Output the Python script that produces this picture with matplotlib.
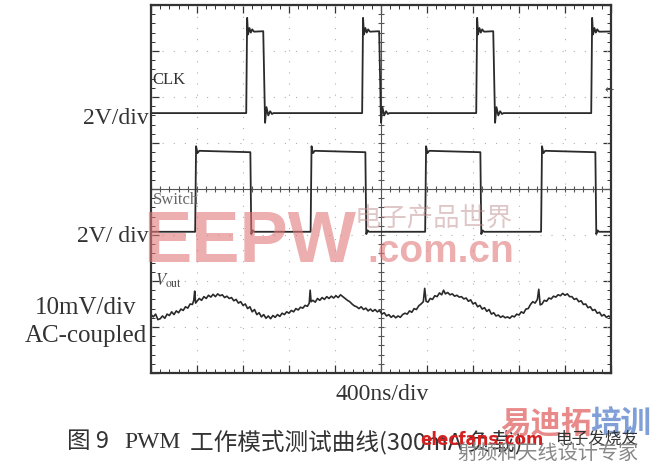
import numpy as np
import matplotlib.pyplot as plt

# ---- trace data, in screen divisions (x: 0..10, y: 0..8) ----
clk_rise = [2.07, 4.59, 7.07, 9.57]
clk_fall = [2.45, 4.97, 7.45, 10.4]
clk_low, clk_high = 5.65, 7.43
# ringing after the edges (offset in div, level)
clk_ring_up = [(0.02, 7.72), (0.04, 7.36), (0.07, 7.50), (0.10, 7.40), (0.13, 7.47), (0.17, 7.42)]
clk_ring_dn = [(0.03, 5.44), (0.06, 5.78), (0.10, 5.60), (0.14, 5.69), (0.18, 5.63)]

sw_rise = [0.96, 3.47, 5.96, 8.48]
sw_fall = [2.17, 4.67, 7.17, 9.67]
sw_low, sw_high = 3.07, 4.80
sw_ring_up = [(0.02, 4.93), (0.05, 4.78), (0.09, 4.83)]
sw_ring_dn = [(0.01, 3.02), (0.04, 3.10)]

vout_t = [0.00, 0.05, 0.10, 0.15, 0.20, 0.25, 0.30, 0.35, 0.40, 0.45, 0.50, 0.55, 0.60, 0.65, 0.70,
          0.75, 0.80, 0.85, 0.90, 0.93, 0.95, 0.97, 1.00, 1.05, 1.10, 1.15, 1.20, 1.25, 1.30, 1.35,
          1.40, 1.45, 1.50, 1.55, 1.60, 1.65, 1.70, 1.75, 1.80, 1.85, 1.90, 1.95, 2.00, 2.05, 2.10,
          2.15, 2.20, 2.25, 2.30, 2.35, 2.40, 2.45, 2.50, 2.55, 2.60, 2.65, 2.70, 2.75, 2.80, 2.85,
          2.90, 2.95, 3.00, 3.05, 3.10, 3.15, 3.20, 3.25, 3.30, 3.35, 3.40, 3.44, 3.46, 3.48, 3.52,
          3.57, 3.62, 3.67, 3.72, 3.77, 3.82, 3.87, 3.92, 3.97, 4.02, 4.07, 4.12, 4.17, 4.22, 4.27,
          4.32, 4.37, 4.42, 4.47, 4.52, 4.57, 4.62, 4.67, 4.72, 4.77, 4.82, 4.87, 4.92, 4.97, 5.02,
          5.07, 5.12, 5.17, 5.22, 5.27, 5.32, 5.37, 5.42, 5.47, 5.52, 5.57, 5.62, 5.67, 5.72, 5.77,
          5.82, 5.87, 5.92, 5.95, 5.98, 6.02, 6.07, 6.12, 6.17, 6.22, 6.27, 6.32, 6.36, 6.40, 6.45,
          6.50, 6.55, 6.60, 6.65, 6.70, 6.75, 6.80, 6.85, 6.90, 6.95, 7.00, 7.05, 7.10, 7.15, 7.20,
          7.25, 7.30, 7.35, 7.40, 7.45, 7.50, 7.55, 7.60, 7.65, 7.70, 7.75, 7.80, 7.85, 7.90, 7.95,
          8.00, 8.05, 8.10, 8.15, 8.20, 8.25, 8.30, 8.35, 8.40, 8.43, 8.46, 8.50, 8.55, 8.60, 8.65,
          8.70, 8.75, 8.80, 8.85, 8.90, 8.95, 9.00, 9.05, 9.10, 9.15, 9.20, 9.25, 9.30, 9.35, 9.40,
          9.45, 9.50, 9.55, 9.60, 9.65, 9.70, 9.75, 9.80, 9.85, 9.90, 9.95, 10.0]
vout_v = [1.27, 1.22, 1.28, 1.16, 1.18, 1.24, 1.19, 1.28, 1.25, 1.33, 1.27, 1.35, 1.31, 1.39, 1.36,
          1.44, 1.41, 1.50, 1.49, 1.58, 1.78, 1.52, 1.56, 1.62, 1.58, 1.66, 1.62, 1.69, 1.65, 1.71,
          1.66, 1.72, 1.68, 1.70, 1.64, 1.67, 1.62, 1.64, 1.57, 1.60, 1.52, 1.55, 1.47, 1.50, 1.40,
          1.44, 1.33, 1.38, 1.27, 1.31, 1.22, 1.27, 1.19, 1.24, 1.18, 1.25, 1.21, 1.27, 1.23, 1.30,
          1.27, 1.33, 1.30, 1.36, 1.33, 1.40, 1.37, 1.43, 1.41, 1.47, 1.45, 1.52, 1.80, 1.55, 1.58,
          1.54, 1.62, 1.58, 1.64, 1.60, 1.66, 1.62, 1.67, 1.63, 1.68, 1.64, 1.70, 1.66, 1.62, 1.58,
          1.55, 1.50, 1.46, 1.44, 1.40, 1.44, 1.38, 1.41, 1.35, 1.39, 1.34, 1.38, 1.33, 1.36, 1.28,
          1.31, 1.24, 1.27, 1.21, 1.25, 1.20, 1.24, 1.21, 1.27, 1.30, 1.28, 1.35, 1.32, 1.40, 1.38,
          1.46, 1.50, 1.55, 1.84, 1.56, 1.54, 1.62, 1.60, 1.68, 1.66, 1.74, 1.70, 1.80, 1.72, 1.75,
          1.70, 1.72, 1.67, 1.69, 1.65, 1.66, 1.61, 1.63, 1.56, 1.59, 1.50, 1.53, 1.44, 1.47, 1.39,
          1.42, 1.34, 1.38, 1.28, 1.31, 1.24, 1.26, 1.21, 1.24, 1.20, 1.22, 1.19, 1.24, 1.22, 1.28,
          1.26, 1.33, 1.30, 1.39, 1.40, 1.49, 1.55, 1.52, 1.60, 1.82, 1.48, 1.50, 1.58, 1.56, 1.63,
          1.61, 1.67, 1.65, 1.70, 1.68, 1.73, 1.69, 1.72, 1.66, 1.66, 1.60, 1.62, 1.55, 1.57, 1.49,
          1.50, 1.42, 1.44, 1.36, 1.38, 1.30, 1.32, 1.24, 1.27, 1.21, 1.24, 1.20]


def pulse_train(rises, falls, low, high, ring_up, ring_dn):
    t, v = [0.0], [low]
    for r, f in zip(rises, falls):
        t.append(r)
        v.append(low)
        for dt, lv in ring_up:
            t.append(r + dt)
            v.append(lv)
        t.append(f - 0.01)
        v.append(high)
        for dt, lv in ring_dn:
            t.append(f + dt)
            v.append(lv)
        t.append(f + ring_dn[-1][0] + 0.03)
        v.append(low)
    t.append(10.5)
    v.append(low)
    return t, v


clk_t, clk_v = pulse_train(clk_rise, clk_fall, clk_low, clk_high, clk_ring_up, clk_ring_dn)
sw_t, sw_v = pulse_train(sw_rise, sw_fall, sw_low, sw_high, sw_ring_up, sw_ring_dn)

fig = plt.figure(figsize=(6.5, 4.62), dpi=100)
ax = fig.add_axes([151 / 650, 1 - 373 / 462, 460 / 650, 368 / 462])
ax.set_xlim(0, 10)
ax.set_ylim(0, 8)

# graticule
for gx in range(1, 10):
    ax.axvline(gx, color='#b0b0b0', lw=0.8, ls=(0, (1, 9)))
for gy in range(1, 8):
    ax.axhline(gy, color='#b0b0b0', lw=0.8, ls=(0, (1, 9)))
ax.axvline(5, color='#555555', lw=0.8)
ax.axhline(4, color='#555555', lw=0.8)
fine_x = np.arange(0, 10.01, 0.2)
fine_y = np.arange(0, 8.01, 0.2)
ax.plot(fine_x, np.full(len(fine_x), 4.0), ls='', marker='|', ms=5, mew=0.8, color='#555555')
ax.plot(np.full(len(fine_y), 5.0), fine_y, ls='', marker='_', ms=5, mew=0.8, color='#555555')

ax.set_xticks(np.arange(0, 11, 1))
ax.set_yticks(np.arange(0, 9, 1))
ax.set_xticks(fine_x, minor=True)
ax.set_yticks(fine_y, minor=True)
ax.tick_params(which='both', direction='in', top=True, right=True,
               labelbottom=False, labelleft=False, color='#333333')
ax.tick_params(which='major', length=6, width=0.9)
ax.tick_params(which='minor', length=3, width=0.7)
for s in ax.spines.values():
    s.set_linewidth(1.6)
    s.set_color('#333333')

# traces
ax.plot(clk_t, clk_v, color='#2a2a2a', lw=1.3)
ax.plot(sw_t, sw_v, color='#2a2a2a', lw=1.3)
ax.plot(vout_t, vout_v, color='#2a2a2a', lw=1.2)

ax.text(0.04, 6.37, 'CLK', fontsize=12, family='Liberation Serif', color='#333333', va='center')
ax.text(0.04, 3.76, 'Switch', fontsize=12, family='Liberation Serif', color='#666666', va='center')
ax.text(0.08, 2.0, r'$V_{\rm out}$', fontsize=12, color='#444444', va='center',
        math_fontfamily='stix')
ax.text(9.85, 6.15, '\u2190', fontsize=8, color='#444444', va='center', ha='left')

# left labels
lab = dict(family='Liberation Serif', color='#333333', fontsize=17, ha='right', va='center')
fig.text(149 / 650, 1 - 118 / 462, '2V/div', **lab)
fig.text(149 / 650, 1 - 237 / 462, '2V/ div', **lab)
lab['fontsize'] = 18
fig.text(136 / 650, 1 - 308 / 462, '10mV/div', **lab)
fig.text(147 / 650, 1 - 336 / 462, 'AC-coupled', **lab)
fig.text(382 / 650, 1 - 395 / 462, '400ns/div', family='Liberation Serif', color='#333333',
         fontsize=17, ha='center', va='center')

# caption
cap = dict(family=['Noto Sans CJK SC', 'DejaVu Sans'], fontsize=17, color='#333333', va='center')
fig.text(67 / 650, 1 - 442 / 462, '图 9', **cap)
fig.text(124 / 650, 1 - 442 / 462, 'PWM', family='Liberation Serif', fontsize=17,
         color='#333333', va='center')
fig.text(190 / 650, 1 - 442 / 462, '工作模式测试曲线(300mA 负载)', **cap)

# watermarks
fig.text(143 / 650, 1 - 262 / 462, 'EEPW', family='Liberation Sans',
         weight='bold', fontsize=52, color='#e07878', alpha=0.6, va='baseline')
fig.text(367 / 650, 1 - 262 / 462, '.com.cn', family='Liberation Sans', weight='bold',
         fontsize=28, color='#e07878', alpha=0.6, va='baseline')
fig.text(355 / 650, 1 - 218 / 462, '电子产品世界', family=['Noto Sans CJK SC'],
         fontsize=19, color='#c09090', alpha=0.5, va='center')
fig.text(500 / 650, 1 - 424 / 462, '易迪拓', family=['Noto Sans CJK SC'], weight='bold',
         fontsize=22, color='#e88a8a', va='center')
fig.text(590 / 650, 1 - 424 / 462, '培训', family=['Noto Sans CJK SC'], weight='bold',
         fontsize=22, color='#7f9fd6', va='center')
fig.text(420 / 650, 1 - 440 / 462, 'elecfans.com', family='DejaVu Sans', weight='bold',
         fontsize=12, color='#d42020', va='center')
fig.text(556 / 650, 1 - 439 / 462, '电子发烧友', family=['Noto Sans CJK SC'],
         fontsize=12, color='#333333', va='center', style='italic')
fig.text(457 / 650, 1 - 453 / 462, '射频和天线设计专家', family=['Noto Sans CJK SC'],
         fontsize=14.5, color='#888888', va='center')

fig.savefig('out.png', dpi=100)
